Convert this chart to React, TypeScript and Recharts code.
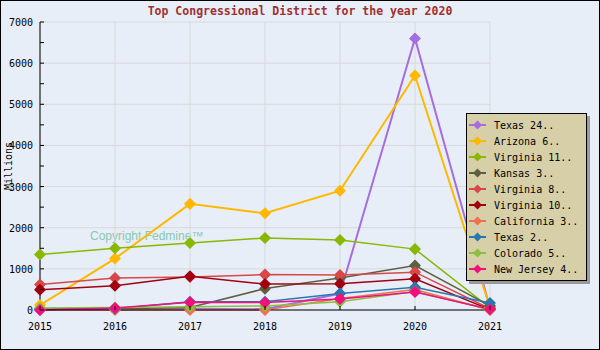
import React from 'react';
import { LineChart, Line, XAxis, YAxis, CartesianGrid, Legend } from 'recharts';

const years = [2015, 2016, 2017, 2018, 2019, 2020, 2021];

const texas24 = [10, 20, 30, 20, 400, 6600, 50];
const arizona6 = [120, 1250, 2580, 2350, 2900, 5700, 60];
const virginia11 = [1350, 1500, 1630, 1750, 1700, 1480, 50];
const kansas3 = [20, 30, 60, 520, 780, 1080, 100];
const virginia8 = [620, 780, 800, 860, 850, 920, 30];
const virginia10 = [490, 590, 820, 630, 640, 760, 10];
const california3 = [0, 0, 0, 0, 280, 500, 0];
const texas2 = [20, 30, 200, 200, 400, 550, 170];
const colorado5 = [50, 60, 80, 100, 200, 450, 10];
const newJersey4 = [0, 50, 190, 180, 270, 440, 20];

const series = [
  { name: 'Texas 24..', values: texas24, color: '#a46ee0', width: 2 },
  { name: 'Arizona 6..', values: arizona6, color: '#ffb800', width: 2 },
  { name: 'Virginia 11..', values: virginia11, color: '#88b800', width: 1.5 },
  { name: 'Kansas 3..', values: kansas3, color: '#5c6040', width: 1.5 },
  { name: 'Virginia 8..', values: virginia8, color: '#d84848', width: 1.5 },
  { name: 'Virginia 10..', values: virginia10, color: '#a00010', width: 1.5 },
  { name: 'California 3..', values: california3, color: '#f07050', width: 1.5 },
  { name: 'Texas 2..', values: texas2, color: '#2878b0', width: 1.5 },
  { name: 'Colorado 5..', values: colorado5, color: '#88c040', width: 1.5 },
  { name: 'New Jersey 4..', values: newJersey4, color: '#f0107f', width: 1.5 },
];

const yMajor = [0, 1000, 2000, 3000, 4000, 5000, 6000, 7000];
const yMinor = [0, 500, 1000, 1500, 2000, 2500, 3000, 3500, 4000, 4500, 5000, 5500, 6000, 6500, 7000];

const data = years.map((year, i) => {
  const row: Record<string, number> = { year };
  series.forEach((s) => {
    row[s.name] = s.values[i];
  });
  return row;
});

const mono = '"DejaVu Sans Mono", monospace';

const Diamond = (props: any) => {
  const { cx, cy, fill } = props;
  if (cx == null || cy == null) return null;
  const r = 5;
  return (
    <polygon
      points={`${cx},${cy - r} ${cx + r},${cy} ${cx},${cy + r} ${cx - r},${cy}`}
      fill={fill}
      stroke={fill}
      strokeWidth={1.5}
      strokeLinejoin="round"
    />
  );
};

const YTick = (props: any) => {
  const { x, y, payload } = props;
  return (
    <g>
      <line x1={x + 7} x2={x + 11} y1={y} y2={y} stroke="#000" />
      {payload.value % 1000 === 0 && (
        <text x={x} y={y + 4} textAnchor="end" fontFamily={mono} fontSize={10} fill="#000">
          {payload.value}
        </text>
      )}
    </g>
  );
};

const XTick = (props: any) => {
  const { x, y, payload } = props;
  return (
    <g>
      <line x1={x} x2={x} y1={y - 8} y2={y - 12} stroke="#000" />
      <text x={x} y={y + 12} textAnchor="middle" fontFamily={mono} fontSize={10} fill="#000">
        {payload.value}
      </text>
    </g>
  );
};

const LegendBox = () => (
  <div
    style={{
      width: 119,
      background: '#d6cfa8',
      border: '1px solid #000',
      boxShadow: '3px 3px 0 #9a9a9a',
      padding: '3px 0 3px 0',
      fontFamily: mono,
      fontSize: 10,
      color: '#000',
    }}
  >
    {series.map((s) => (
      <div key={s.name} style={{ display: 'flex', alignItems: 'center', height: 16 }}>
        <svg width={24} height={12} style={{ marginLeft: 1 }}>
          <line x1={1} x2={18} y1={6} y2={6} stroke={s.color} strokeWidth={2} />
          <polygon points="9.5,1.5 14,6 9.5,10.5 5,6" fill={s.color} />
        </svg>
        <span style={{ marginLeft: 2, whiteSpace: 'pre' }}>{s.name}</span>
      </div>
    ))}
  </div>
);

export default function App() {
  return (
    <div
      style={{
        position: 'fixed',
        left: 0,
        top: 0,
        width: 600,
        height: 350,
        background: '#e8eef8',
        boxShadow: 'inset 0 0 0 1px #000',
      }}
    >
      <div
        style={{
          position: 'absolute',
          top: 4,
          left: 0,
          width: 600,
          textAlign: 'center',
          fontFamily: mono,
          fontWeight: 'bold',
          fontSize: 11.5,
          color: '#a03030',
        }}
      >
        Top Congressional District for the year 2020
      </div>
      <div
        style={{
          position: 'absolute',
          left: 90,
          top: 229,
          fontFamily: '"Liberation Sans", Arial, sans-serif',
          fontSize: 12,
          color: '#88c8b0',
        }}
      >
        Copyright Fedmine™
      </div>
      <LineChart
        width={600}
        height={350}
        data={data}
        margin={{ top: 22, right: 110, bottom: 0, left: 0 }}
        style={{ position: 'absolute', left: 0, top: 0 }}
      >
        <CartesianGrid stroke="#d8d8d8" horizontalValues={yMajor} verticalValues={years} />
        <XAxis
          dataKey="year"
          type="number"
          domain={[2015, 2021]}
          ticks={years}
          height={40}
          tickSize={0}
          tickMargin={8}
          tick={<XTick />}
          axisLine={{ stroke: '#000' }}
          tickLine={false}
          interval={0}
        />
        <YAxis
          domain={[0, 7000]}
          ticks={yMinor}
          width={40}
          tickSize={0}
          tickMargin={7}
          tick={<YTick />}
          tickLine={false}
          axisLine={{ stroke: '#000' }}
          interval={0}
          label={{
            value: 'Millions',
            angle: -90,
            position: 'insideLeft',
            offset: 8,
            style: { fontFamily: mono, fontSize: 10, fill: '#000', textAnchor: 'middle' },
          }}
        />
        <Legend
          layout="vertical"
          align="center"
          verticalAlign="middle"
          content={<LegendBox />}
          wrapperStyle={{ position: 'absolute', left: 466, top: 113, width: 121 }}
        />
        {series.map((s) => (
          <Line
            key={s.name}
            type="linear"
            dataKey={s.name}
            stroke={s.color}
            strokeWidth={s.width}
            dot={<Diamond fill={s.color} />}
            activeDot={false}
            isAnimationActive={false}
          />
        ))}
      </LineChart>
    </div>
  );
}
